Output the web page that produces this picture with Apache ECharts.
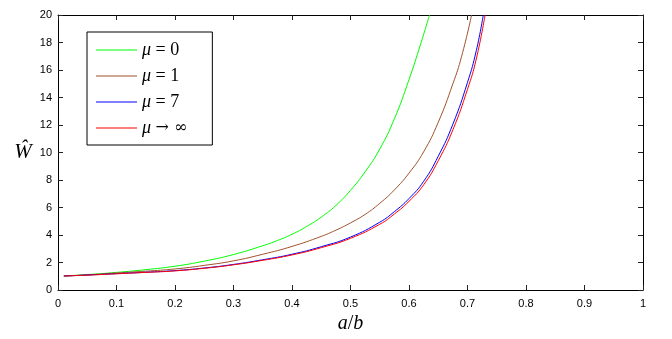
<!DOCTYPE html>
<html><head><meta charset="utf-8">
<script src="https://cdn.jsdelivr.net/npm/echarts@6/dist/echarts.min.js"></script>
<style>html,body{margin:0;padding:0;background:#fff}#c{width:672px;height:339px}</style>
</head><body><div id="c"></div>
<script>
// a/b values and W-hat values
const xMu0 = [0.01, 0.05, 0.1, 0.15, 0.2, 0.25, 0.3, 0.35, 0.375, 0.4, 0.425, 0.45, 0.475, 0.5, 0.525, 0.55, 0.575, 0.6, 0.62, 0.635];
const yMu0 = [1.02, 1.12, 1.28, 1.48, 1.73, 2.1, 2.58, 3.22, 3.6, 4.05, 4.62, 5.3, 6.15, 7.25, 8.6, 10.25, 12.45, 15.3, 17.9, 20];

const xMu1 = [0.01, 0.05, 0.1, 0.15, 0.2, 0.25, 0.3, 0.35, 0.4, 0.45, 0.475, 0.5, 0.525, 0.55, 0.575, 0.6, 0.625, 0.65, 0.675, 0.69, 0.707];
const yMu1 = [1.02, 1.1, 1.24, 1.37, 1.53, 1.79, 2.12, 2.6, 3.17, 3.9, 4.35, 4.88, 5.5, 6.3, 7.28, 8.5, 10.05, 12.2, 15.0, 17.0, 20];

const xMu7 = [0.01, 0.05, 0.1, 0.15, 0.2, 0.25, 0.3, 0.35, 0.4, 0.45, 0.5, 0.55, 0.575, 0.6, 0.625, 0.65, 0.675, 0.7, 0.715, 0.727];
const yMu7 = [1.02, 1.09, 1.19, 1.29, 1.41, 1.6, 1.86, 2.2, 2.6, 3.15, 3.85, 4.93, 5.7, 6.65, 7.9, 9.73, 12.06, 15.1, 17.4, 20];

const xMuInf = [0.01, 0.05, 0.1, 0.15, 0.2, 0.25, 0.3, 0.35, 0.4, 0.45, 0.5, 0.55, 0.575, 0.6, 0.625, 0.65, 0.675, 0.7, 0.715, 0.73];
const yMuInf = [1.02, 1.08, 1.18, 1.28, 1.39, 1.58, 1.83, 2.16, 2.55, 3.08, 3.76, 4.78, 5.53, 6.45, 7.65, 9.4, 11.65, 14.6, 16.8, 20];

const seriesNames = ['μ = 0', 'μ = 1', 'μ = 7', 'μ → ∞'];
const seriesColors = ['#00ff00', '#a0522d', '#0000ff', '#ff0000'];
const xRange = [0, 1, 0.1];
const yRange = [0, 20, 2];

const pairs = (xs, ys) => xs.map((x, i) => [x, ys[i]]);
const allData = [pairs(xMu0, yMu0), pairs(xMu1, yMu1), pairs(xMu7, yMu7), pairs(xMuInf, yMuInf)];

const axisLine = {onZero: false, lineStyle: {color: '#000', width: 1}};
const tick = {inside: true, length: 5, lineStyle: {color: '#222', width: 1}};
const labelStyle = {color: '#000', fontFamily: 'Liberation Sans', fontSize: 11};
const serifRich = {i: {fontFamily: 'Liberation Serif', fontStyle: 'italic', fontSize: 20, color: '#000'}};

const chart = echarts.init(document.getElementById('c'), null, {renderer: 'canvas'});
chart.setOption({
  animation: false,
  backgroundColor: '#fff',
  grid: {left: 58, right: 29, top: 15, bottom: 48, show: false},
  legend: {
    orient: 'vertical', left: 87, top: 32,
    itemWidth: 41, itemHeight: 14, itemGap: 8,
    icon: 'path://M0,0H41V1.2H0Z',
    padding: [9, 25, 8, 9],
    borderColor: '#000', borderWidth: 1, backgroundColor: '#fff',
    data: seriesNames,
    formatter: n => n.replace('μ', '{i|μ}').replace('→ ∞', '{m|→ ∞}'),
    textStyle: {fontFamily: 'Liberation Serif', fontSize: 18, lineHeight: 16, color: '#000',
      rich: {
        i: {fontFamily: 'Liberation Serif', fontStyle: 'italic', fontSize: 18, lineHeight: 16, color: '#000'},
        m: {fontFamily: 'DejaVu Serif', fontSize: 16, lineHeight: 16, color: '#000'}
      }}
  },
  xAxis: [
    {type: 'value', min: xRange[0], max: xRange[1], interval: xRange[2],
     axisLine, axisTick: tick, splitLine: {show: false},
     axisLabel: Object.assign({margin: 8}, labelStyle),
     name: '{i|a}/{i|b}', nameLocation: 'middle', nameGap: 24,
     nameTextStyle: {fontFamily: 'Liberation Serif', fontSize: 20, color: '#000', rich: serifRich}},
    {type: 'value', position: 'top', min: xRange[0], max: xRange[1], interval: xRange[2],
     axisLine, axisTick: tick, splitLine: {show: false}, axisLabel: {show: false}}
  ],
  yAxis: [
    {type: 'value', min: yRange[0], max: yRange[1], interval: yRange[2],
     axisLine, axisTick: tick, splitLine: {show: false},
     axisLabel: Object.assign({margin: 6}, labelStyle),
     name: 'Ŵ', nameLocation: 'middle', nameGap: 35, nameRotate: 0,
     nameTextStyle: {fontFamily: 'Liberation Serif', fontStyle: 'italic', fontSize: 21, color: '#000', align: 'center', verticalAlign: 'middle'}},
    {type: 'value', position: 'right', min: yRange[0], max: yRange[1], interval: yRange[2],
     axisLine, axisTick: tick, splitLine: {show: false}, axisLabel: {show: false}}
  ],
  series: seriesNames.map((n, i) => ({
    name: n, type: 'line', data: allData[i], smooth: 0.5,
    symbol: 'none', xAxisIndex: 0, yAxisIndex: 0,
    lineStyle: {color: seriesColors[i], width: 1},
    itemStyle: {color: seriesColors[i]}
  }))
});
</script></body></html>
